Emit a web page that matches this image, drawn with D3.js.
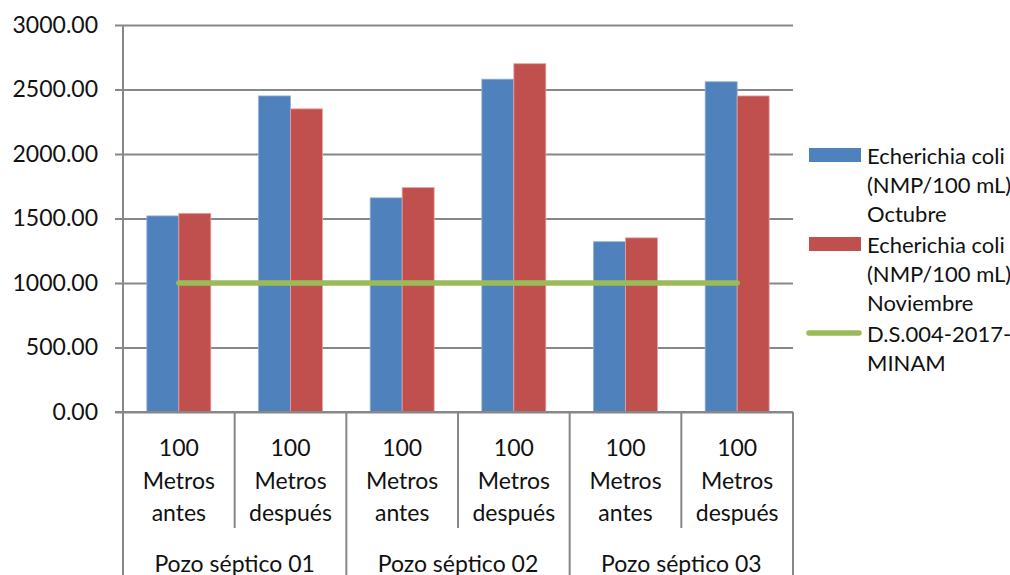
<!DOCTYPE html>
<html>
<head>
<meta charset="utf-8">
<script src="https://cdn.jsdelivr.net/npm/d3@7"></script>
<style>
  body { margin: 0; background: #fff; }
  svg text { font-family: Lato, "Open Sans", sans-serif; fill: #111; }
</style>
</head>
<body>
<svg id="chart" width="1010" height="575"></svg>
<script>
// Sampling points along each septic well
const groups = ["Pozo séptico 01", "Pozo séptico 02", "Pozo séptico 03"];
const points = ["100 Metros antes", "100 Metros después"];
const categories = [
  "Pozo séptico 01|100 Metros antes", "Pozo séptico 01|100 Metros después",
  "Pozo séptico 02|100 Metros antes", "Pozo séptico 02|100 Metros después",
  "Pozo séptico 03|100 Metros antes", "Pozo séptico 03|100 Metros después"
];
const pointLabels = [["100", "Metros", "antes"], ["100", "Metros", "después"]];

// E. coli (NMP/100 mL)
const octubre   = [1520, 2450, 1660, 2580, 1320, 2560];
const noviembre = [1540, 2350, 1740, 2700, 1350, 2450];
// Standard D.S.004-2017-MINAM
const limite    = [1000, 1000, 1000, 1000, 1000, 1000];

const yTicks = [0, 500, 1000, 1500, 2000, 2500, 3000];
const seriesNames = [
  ["Echerichia coli", "(NMP/100 mL)", "Octubre"],
  ["Echerichia coli", "(NMP/100 mL)", "Noviembre"],
  ["D.S.004-2017-", "MINAM"]
];
const colors = ["#4F81BD", "#C0504D", "#9BBB59"];
const strokes = ["#8fb0d9", "#e6a3a1"];

const svg = d3.select("#chart");
const plotLeft = 123, plotRight = 793, plotTop = 25, plotBottom = 412;
const axisColor = "#878787";
const fontSize = 23;

const x0 = d3.scaleBand().domain(categories).range([plotLeft, plotRight]).padding(0);
const x1 = d3.scaleBand().domain(["oct", "nov"]).range([0, x0.bandwidth()])
  .paddingInner(0).paddingOuter(0.745);
const y = d3.scaleLinear().domain([0, 3000]).range([plotBottom, plotTop]);

// Horizontal gridlines with left tick marks
const yAxis = d3.axisLeft(y).tickValues(yTicks).tickSize(-(plotRight - plotLeft))
  .tickFormat(d3.format(".2f")).tickPadding(16);
const gy = svg.append("g").attr("transform", `translate(${plotLeft},0)`).call(yAxis);
gy.select(".domain").remove();
gy.selectAll(".tick line").attr("x1", -8).attr("stroke", axisColor).attr("stroke-width", 2);
gy.selectAll(".tick text").attr("font-size", fontSize).attr("fill", "#111")
  .attr("font-family", "Lato, 'Open Sans', sans-serif").attr("x", -25);

// Bars
const barData = [];
categories.forEach((c, i) => {
  barData.push({ c, key: "oct", v: octubre[i], s: 0 });
  barData.push({ c, key: "nov", v: noviembre[i], s: 1 });
});
svg.append("g").selectAll("rect").data(barData).join("rect")
  .attr("x", d => x0(d.c) + x1(d.key))
  .attr("y", d => y(d.v))
  .attr("width", x1.bandwidth())
  .attr("height", d => y(0) - y(d.v))
  .attr("fill", d => colors[d.s])
  .attr("stroke", d => strokes[d.s])
  .attr("stroke-width", 0.8);

// Reference line
const line = d3.line().x((d, i) => x0(categories[i]) + x0.bandwidth() / 2).y(d => y(d));
svg.append("path").datum(limite).attr("d", line)
  .attr("fill", "none").attr("stroke", colors[2]).attr("stroke-width", 5.5)
  .attr("stroke-linecap", "round");

// Left axis line and category axis
svg.append("line").attr("x1", plotLeft).attr("x2", plotLeft).attr("y1", plotTop).attr("y2", 575)
  .attr("stroke", axisColor).attr("stroke-width", 2);
svg.append("line").attr("x1", plotLeft - 8).attr("x2", plotRight).attr("y1", plotBottom).attr("y2", plotBottom)
  .attr("stroke", axisColor).attr("stroke-width", 2);

// Dividers between sampling points (short) and between wells (long)
categories.forEach((c, i) => {
  if (i === 0) return;
  const xx = x0(c);
  const isGroup = i % 2 === 0;
  svg.append("line").attr("x1", xx).attr("x2", xx).attr("y1", plotBottom).attr("y2", isGroup ? 575 : 528)
    .attr("stroke", axisColor).attr("stroke-width", 2);
});
svg.append("line").attr("x1", plotRight).attr("x2", plotRight).attr("y1", plotBottom).attr("y2", 575)
  .attr("stroke", axisColor).attr("stroke-width", 2);

// Category labels
const lineYs = [447, 480, 512];
categories.forEach((c, i) => {
  const cx = x0(c) + x0.bandwidth() / 2;
  pointLabels[i % 2].forEach((t, j) => {
    svg.append("text").attr("x", cx).attr("y", lineYs[j]).attr("text-anchor", "middle")
      .attr("dominant-baseline", "central").attr("font-size", fontSize).text(t);
  });
});
groups.forEach((g, gi) => {
  const cx = x0(categories[gi * 2]) + x0.bandwidth();
  svg.append("text").attr("x", cx).attr("y", 563).attr("text-anchor", "middle")
    .attr("dominant-baseline", "central").attr("font-size", fontSize).text(g);
});

// Legend
const legendY = [[155, 184, 213], [244, 273, 302], [333, 362]];
seriesNames.forEach((lines, si) => {
  const ly = legendY[si];
  if (si < 2) {
    svg.append("rect").attr("x", 809).attr("y", ly[0] - 7).attr("width", 52).attr("height", 14)
      .attr("fill", colors[si]);
  } else {
    svg.append("line").attr("x1", 809).attr("x2", 859).attr("y1", ly[0]).attr("y2", ly[0])
      .attr("stroke", colors[2]).attr("stroke-width", 5.5).attr("stroke-linecap", "round");
  }
  lines.forEach((t, j) => {
    svg.append("text").attr("x", 867).attr("y", ly[j]).attr("dominant-baseline", "central")
      .attr("font-size", fontSize - 1).text(t);
  });
});
</script>
</body>
</html>
